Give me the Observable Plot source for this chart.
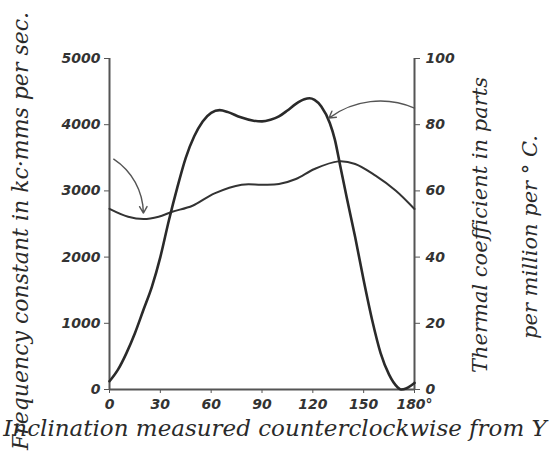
<!DOCTYPE html>
<html>
<head>
<meta charset="utf-8">
<script src="https://cdn.jsdelivr.net/npm/d3@7"></script>
<script src="https://cdn.jsdelivr.net/npm/@observablehq/plot@0.6"></script>
<style>
  html, body { margin: 0; padding: 0; background: #fff; }
  #chart { width: 550px; height: 456px; }
</style>
</head>
<body>
<div id="chart"></div>
<script>
// Inclination angle (degrees) for the frequency-constant curve
const freqAngle = [0, 11, 20, 29, 37, 49, 62, 78, 90, 100, 110, 121, 135, 145, 157, 169, 180];
// Frequency constant, kc·mm per sec (left axis)
const freqValue = [2730, 2610, 2575, 2610, 2685, 2776, 2963, 3094, 3094, 3104, 3180, 3331, 3446, 3407, 3230, 3003, 2726];

// Inclination angle (degrees) for the thermal-coefficient curve
const thermAngle = [0, 5, 10, 15, 20, 25, 30, 35, 40, 45, 50, 55, 60, 65, 70, 77, 85, 90, 95, 100, 105, 110, 115, 118, 121, 125, 130, 133, 136, 140, 145, 150, 155, 160, 165, 170, 172, 175, 178, 180];
// Thermal coefficient, parts per million per °C (right axis)
const thermValue = [2.5, 6, 11, 17, 24, 31, 40, 51, 61, 70, 76.5, 81, 83.6, 84.4, 83.8, 82.3, 81.2, 81, 81.5, 82.5, 84.3, 86.3, 87.7, 88, 87.5, 85.5, 80.5, 75.5, 68, 58, 46, 33, 21, 11, 4.5, 0.7, 0, 0.3, 1.2, 2];

// Axis ticks
const xTicks = [0, 30, 60, 90, 120, 150, 180];
const leftTicks = [0, 1000, 2000, 3000, 4000, 5000];
const rightTicks = [0, 20, 40, 60, 80, 100];
const rightToLeft = 50; // right axis 0–100 shares the frame with left axis 0–5000

// Annotation arrows: [x1, y1, x2, y2]
const freqArrow = [2.5, 3480, 20, 2665];          // left-axis units
const thermArrow = [180, 85, 129.5, 82];            // right-axis units

// Titles
const leftTitle = "Frequency constant in kc·mms per sec.";
const bottomTitle = "Inclination measured counterclockwise from Y";
const rightTitle1 = "Thermal coefficient in parts";
const rightTitle2 = "per million per ° C.";

const freqData = freqAngle.map((a, i) => ({a, v: freqValue[i]}));
const thermData = thermAngle.map((a, i) => ({a, v: thermValue[i] * rightToLeft}));

const titleFont = {fontFamily: "DejaVu Serif", fontStyle: "italic", fontWeight: "normal", fill: "#2a2a2a", textAnchor: "middle"};

const chart = Plot.plot({
  width: 550,
  height: 456,
  marginLeft: 109,
  marginRight: 136,
  marginTop: 58,
  marginBottom: 67,
  x: {domain: [0, 180]},
  y: {domain: [0, 5000]},
  style: {fontFamily: "DejaVu Sans", fontStyle: "italic", fontWeight: "bold", fontSize: "14px", color: "#333", background: "white"},
  marks: [
    Plot.axisY({ticks: leftTicks, tickFormat: d => String(d), anchor: "left", tickSize: 5, tickPadding: 4, label: null, stroke: "#555"}),
    Plot.axisY({ticks: rightTicks.map(v => v * rightToLeft), tickFormat: d => String(d / rightToLeft), anchor: "right", tickSize: 5, tickPadding: 6, label: null, stroke: "#555"}),
    Plot.axisX({ticks: xTicks, tickFormat: d => d === 180 ? "180°" : String(d), tickSize: 4, tickPadding: 6, label: null, stroke: "#555"}),
    Plot.ruleX([0, 180], {stroke: "#555", strokeWidth: 2}),
    Plot.ruleY([0], {stroke: "#555", strokeWidth: 2}),
    Plot.line(freqData, {x: "a", y: "v", curve: "catmull-rom", stroke: "#333", strokeWidth: 2}),
    Plot.line(thermData, {x: "a", y: "v", curve: "monotone-x", stroke: "#2a2a2a", strokeWidth: 2.6}),
    Plot.arrow([freqArrow], {x1: d => d[0], y1: d => d[1], x2: d => d[2], y2: d => d[3], bend: 28, stroke: "#555", strokeWidth: 1.4, headLength: 8}),
    Plot.arrow([thermArrow], {x1: d => d[0], y1: d => d[1] * rightToLeft, x2: d => d[2], y2: d => d[3] * rightToLeft, bend: -30, stroke: "#555", strokeWidth: 1.4, headLength: 8}),
    Plot.text([leftTitle], {text: d => d, frameAnchor: "left", dx: -89, dy: 7, rotate: -90, fontSize: 22, ...titleFont}),
    Plot.text([bottomTitle], {text: d => d, frameAnchor: "bottom", dx: 13, dy: 46, fontSize: 23, ...titleFont}),
    Plot.text([rightTitle1], {text: d => d, frameAnchor: "right", dx: 66, dy: 1, rotate: -90, fontSize: 21, ...titleFont}),
    Plot.text([rightTitle2], {text: d => d, frameAnchor: "right", dx: 116, dy: 13, rotate: -90, fontSize: 21, ...titleFont})
  ]
});
document.getElementById("chart").appendChild(chart);
</script>
</body>
</html>
